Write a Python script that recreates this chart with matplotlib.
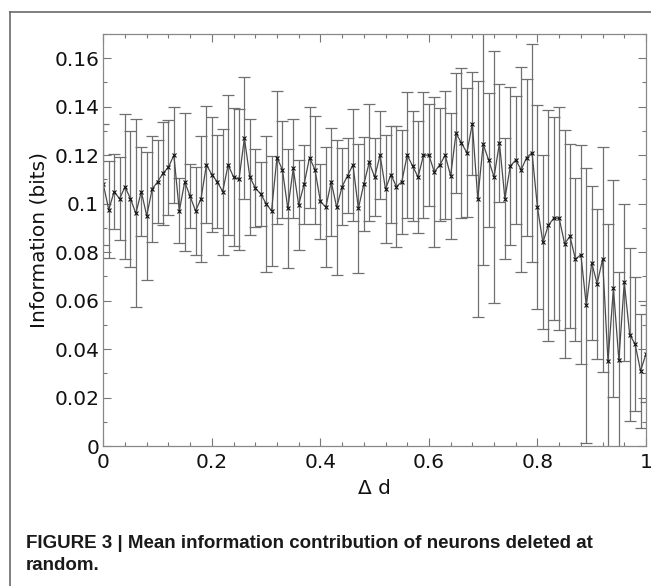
import numpy as np
import matplotlib
matplotlib.use('Agg')
import matplotlib.pyplot as plt
from matplotlib.lines import Line2D
from matplotlib.ticker import MultipleLocator, FormatStrFormatter

# mean information per fraction of deleted neurons (delta d = 0 .. 1, step 0.01)
delta_d = np.round(np.arange(101) * 0.01, 2)
info_mean = [
    0.108, 0.0975, 0.105, 0.102, 0.107, 0.102, 0.096, 0.105, 0.095, 0.106,
    0.109, 0.1125, 0.115, 0.120, 0.097, 0.109, 0.103, 0.097, 0.102, 0.116,
    0.112, 0.109, 0.105, 0.116, 0.111, 0.110, 0.127, 0.111, 0.1065, 0.104,
    0.100, 0.097, 0.119, 0.114, 0.098, 0.1145, 0.0995, 0.108, 0.119, 0.114,
    0.101, 0.0985, 0.109, 0.0985, 0.107, 0.1115, 0.116, 0.098, 0.108, 0.117,
    0.111, 0.120, 0.106, 0.112, 0.107, 0.109, 0.120, 0.1155, 0.111, 0.120,
    0.120, 0.113, 0.116, 0.120, 0.1115, 0.129, 0.125, 0.121, 0.133, 0.102,
    0.1245, 0.118, 0.111, 0.125, 0.102, 0.1155, 0.118, 0.114, 0.119, 0.121,
    0.0985, 0.084, 0.091, 0.094, 0.094, 0.0835, 0.0865, 0.077, 0.079, 0.058,
    0.0755, 0.067, 0.077, 0.035, 0.065, 0.0355, 0.0675, 0.046, 0.042, 0.031,
    0.038,
]
info_err = [
    0.025, 0.020, 0.0153, 0.0171, 0.030, 0.028, 0.0388, 0.0183, 0.0264, 0.0218,
    0.0171, 0.0213, 0.0195, 0.0198, 0.0134, 0.0285, 0.0132, 0.018, 0.0259, 0.0241,
    0.0237, 0.0192, 0.026, 0.029, 0.0284, 0.029, 0.0252, 0.0238, 0.0161, 0.0132,
    0.028, 0.0226, 0.0275, 0.0199, 0.0246, 0.0204, 0.0187, 0.0163, 0.0208, 0.0222,
    0.0154, 0.0248, 0.0222, 0.0279, 0.0158, 0.0155, 0.0232, 0.0267, 0.0193, 0.0242,
    0.016, 0.0181, 0.0224, 0.0201, 0.025, 0.0215, 0.026, 0.0227, 0.023, 0.0259,
    0.021, 0.031, 0.0233, 0.0263, 0.0261, 0.0248, 0.0309, 0.0267, 0.0213, 0.0487,
    0.0498, 0.0276, 0.0521, 0.0245, 0.0249, 0.0325, 0.0264, 0.0422, 0.0324, 0.0449,
    0.042, 0.0359, 0.0477, 0.0419, 0.046, 0.047, 0.038, 0.0336, 0.0453, 0.0567,
    0.0318, 0.0309, 0.0464, 0.0568, 0.0449, 0.0361, 0.0325, 0.0358, 0.0277, 0.0236,
    0.020,
]
caption = ["FIGURE 3 | Mean information contribution of neurons deleted at",
           "random."]

fig = plt.figure(figsize=(6.51, 5.86), dpi=100)
ax = fig.add_axes([0.1587, 0.2389, 0.8336, 0.7031])

ax.errorbar(delta_d, info_mean, yerr=info_err, fmt='none', ecolor='#707070',
            elinewidth=0.9, capsize=4.3, capthick=0.9)
ax.plot(delta_d, info_mean, color='#4a4a4a', lw=0.9, marker='x', ms=3.5,
        mec='#111111', mew=0.8)

ax.set_xlim(0, 1)
ax.set_ylim(0, 0.17)
ax.xaxis.set_major_locator(MultipleLocator(0.2))
ax.xaxis.set_minor_locator(MultipleLocator(0.04))
ax.yaxis.set_major_locator(MultipleLocator(0.02))
ax.yaxis.set_minor_locator(MultipleLocator(0.01))
ax.xaxis.set_major_formatter(FormatStrFormatter('%g'))
ax.yaxis.set_major_formatter(FormatStrFormatter('%g'))
ax.tick_params(which='both', direction='in', top=True, right=True,
               color='#777777', labelsize=14.5, labelcolor='#111111')
ax.tick_params(which='major', length=5.5, width=0.8)
ax.tick_params(which='minor', length=3, width=0.8)
ax.tick_params(axis='y', pad=3)
ax.tick_params(axis='x', pad=5)
for s in ax.spines.values():
    s.set_color('#888888')
    s.set_linewidth(0.9)

ax.set_xlabel('\u0394 d', fontsize=14.5, color='#111111', labelpad=5)
ax.set_ylabel('Information (bits)', fontsize=14.5, color='#111111', labelpad=4)

# page frame around the figure
fig.add_artist(Line2D([9.5 / 651, 1], [1 - 12 / 586] * 2, transform=fig.transFigure,
                      color='#6a6a6a', lw=1.2))
fig.add_artist(Line2D([9.5 / 651] * 2, [0, 1 - 12 / 586], transform=fig.transFigure,
                      color='#6a6a6a', lw=1.2))

fig.text(26 / 651, 1 - 543 / 586, caption[0], fontsize=13.5, fontweight='bold',
         family='Liberation Sans', va='center', color='#1a1a1a')
fig.text(26 / 651, 1 - 566 / 586, caption[1], fontsize=13.5, fontweight='bold',
         family='Liberation Sans', va='center', color='#1a1a1a')

fig.savefig('out.png', dpi=100)
